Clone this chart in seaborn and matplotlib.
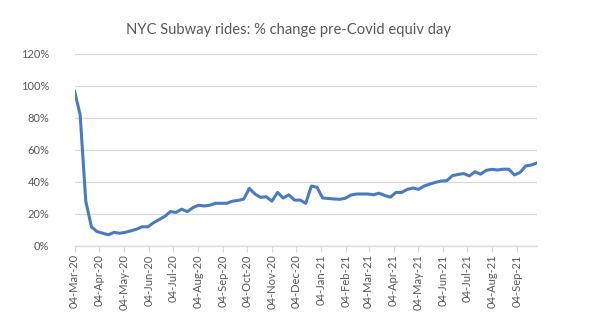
import matplotlib
matplotlib.use("Agg")
import matplotlib.pyplot as plt
import matplotlib.dates as mdates
import matplotlib.ticker as mticker
import seaborn as sns
import pandas as pd

title = "NYC Subway rides: % change pre-Covid equiv day"
start_date = "2020-03-04"
pct_change = [
    97, 82, 28, 12, 9, 8, 7, 8.5, 8, 8.5,
    9.5, 10.5, 12, 12, 14.5, 16.5, 18.5, 21.5, 21, 23,
    21.5, 24, 25.5, 25, 25.5, 26.7, 26.7, 26.7, 28, 28.5,
    29.3, 36, 32.5, 30.4, 30.8, 28, 33.5, 30, 32, 28.7,
    28.7, 26.7, 37.5, 36.7, 30, 29.7, 29.4, 29.2, 29.8, 31.8,
    32.5, 32.5, 32.5, 32, 33, 31.6, 30.5, 33.5, 33.5, 35.4,
    36.2, 35.4, 37.5, 38.7, 39.8, 40.6, 40.8, 44, 44.7, 45.3,
    43.8, 46.4, 44.9, 47.3, 47.9, 47.5, 48, 48, 44.4, 46,
    50, 50.6, 52,
]
y_ticks = [0, 20, 40, 60, 80, 100, 120]

dates = pd.date_range(start_date, periods=len(pct_change), freq="7D")
df = pd.DataFrame({"date": dates, "pct": [v / 100 for v in pct_change]})

sns.set_theme(style="white")
plt.rcParams["font.family"] = ["Lato", "DejaVu Sans"]

fig = plt.figure(figsize=(5.96, 3.34), dpi=100)
ax = fig.add_axes([74.5 / 596, 88 / 334, (537 - 74.5) / 596, 192 / 334])

sns.lineplot(data=df, x="date", y="pct", ax=ax, color="#4A7BC0", linewidth=2.2)

ax.set_xlim(dates[0], dates[-1])
ax.set_ylim(0, 1.2)
ax.set_yticks([t / 100 for t in y_ticks])
ax.yaxis.set_major_formatter(mticker.PercentFormatter(1.0, decimals=0))
ax.xaxis.set_major_locator(mdates.MonthLocator(bymonthday=4))
ax.xaxis.set_major_formatter(mdates.DateFormatter("%d-%b-%y"))

ax.grid(axis="y", color="#D9D9D9", linewidth=0.9)
ax.set_axisbelow(True)
for s in ["top", "right", "left"]:
    ax.spines[s].set_visible(False)
ax.spines["bottom"].set_color("#D9D9D9")
ax.spines["bottom"].set_linewidth(0.9)

ax.tick_params(axis="x", which="major", bottom=True, length=4, width=0.9,
               color="#D9D9D9", labelsize=8, labelcolor="#595959",
               labelrotation=90, pad=2)
ax.tick_params(axis="y", left=False, labelsize=8, labelcolor="#595959", pad=12)
ax.set_xlabel("")
ax.set_ylabel("")

fig.text(289 / 596, 1 - 30 / 334, title, ha="center", va="center",
         fontsize=10.6, color="#595959")

fig.savefig("out.png", dpi=100)
